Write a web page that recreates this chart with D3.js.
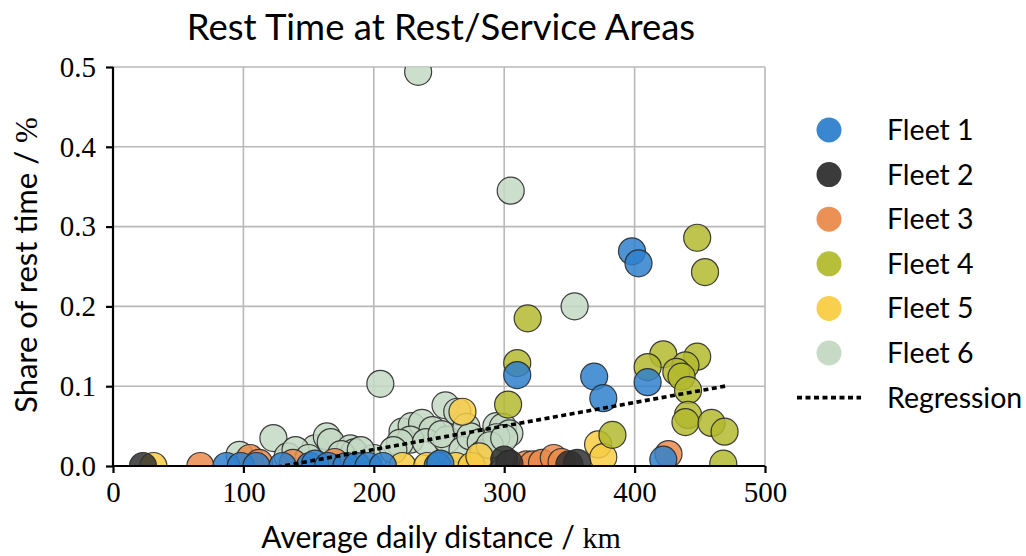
<!DOCTYPE html>
<html>
<head>
<meta charset="utf-8">
<script src="https://cdn.jsdelivr.net/npm/d3@7"></script>
<style>
  html, body { margin: 0; padding: 0; background: #fff; }
  svg { display: block; }
</style>
</head>
<body>
<svg id="chart" width="1026" height="556"></svg>
<script>
// Average daily distance (km) and share of rest time, per fleet
const fleetNames = ["Fleet 1", "Fleet 2", "Fleet 3", "Fleet 4", "Fleet 5", "Fleet 6"];
const fleetColors = ["#2f80cc", "#303030", "#ea8b4c", "#b3ba2e", "#f8cd45", "#c3d8c3"];

const fleet1 = [[398,0.269],[403,0.254],[310,0.114],[369,0.112],[376,0.085],[410,0.105],[422,0.008],
  [87,0],[98,0],[110,0],[130,0],[151,0],[155,0.003],[165,0],[179,0],[187,0],[196,0],[207,0],[249,0],[251,0.003]];
const fleet2 = [[23,0],[300,0.008],[304,0.003],[350,0.002],[356,0.004]];
const fleet3 = [[67,0],[105,0.01],[112,0.004],[138,0.004],[170,0.005],[317,0.002],[322,0.002],
  [329,0.004],[338,0.01],[344,0.005],[426,0.015]];
const fleet4 = [[448,0.286],[454,0.243],[318,0.185],[310,0.129],[303,0.077],[383,0.039],[422,0.140],
  [448,0.137],[410,0.124],[439,0.126],[432,0.118],[436,0.112],[441,0.095],[441,0.064],[439,0.055],
  [459,0.054],[469,0.043],[468,0.003]];
const fleet5 = [[31,0],[268,0.068],[372,0.027],[376,0.011],[222,0],[241,0],[263,0],[275,0],[281,0.012]];
const fleet6 = [[234,0.494],[305,0.345],[354,0.200],[205,0.103],[123,0.035],[97,0.014],[134,0.012],
  [155,0.022],[164,0.037],[167,0.03],[182,0.022],[185,0.017],[255,0.076],[264,0.068],[222,0.043],
  [229,0.05],[237,0.054],[245,0.045],[228,0.033],[220,0.029],[240,0.03],[256,0.033],[252,0.04],
  [271,0.049],[268,0.02],[274,0.037],[282,0.03],[284,0.016],[294,0.05],[299,0.049],[304,0.041],
  [294,0.036],[289,0.026],[300,0.035],[175,0.015],[200,0.01],[140,0.02],[150,0.01],[190,0.02],[215,0.02]];
const fleetData = [fleet1, fleet2, fleet3, fleet4, fleet5, fleet6];

// Linear regression fit: share = intercept + slope * distance
const regSlope = 0.000295;
const regIntercept = -0.0384;
const regRange = [23, 470];

const xTicks = [0, 100, 200, 300, 400, 500];
const yTicks = [0.0, 0.1, 0.2, 0.3, 0.4, 0.5];

const svg = d3.select("#chart");
const plot = { left: 113, right: 765, top: 67, bottom: 466 };

const x = d3.scaleLinear().domain([0, 500]).range([plot.left, plot.right]);
const y = d3.scaleLinear().domain([0, 0.5]).range([plot.bottom, plot.top]);

const sans = "Lato, 'Open Sans', 'DejaVu Sans', sans-serif";
const serif = "'Liberation Serif', 'DejaVu Serif', serif";

// grid
const grid = svg.append("g");
grid.selectAll("line.gx").data(xTicks.slice(1)).join("line")
  .attr("x1", d => x(d)).attr("x2", d => x(d))
  .attr("y1", plot.top).attr("y2", plot.bottom)
  .attr("stroke", "#b8b8b8").attr("stroke-width", 1.6);
grid.selectAll("line.gy").data(yTicks.slice(1)).join("line")
  .attr("x1", plot.left).attr("x2", plot.right)
  .attr("y1", d => y(d)).attr("y2", d => y(d))
  .attr("stroke", "#b8b8b8").attr("stroke-width", 1.6);

svg.append("clipPath").attr("id", "plotClip")
  .append("rect").attr("x", plot.left).attr("y", plot.top)
  .attr("width", plot.right - plot.left).attr("height", plot.bottom - plot.top);

const marks = svg.append("g").attr("clip-path", "url(#plotClip)");

// fleets drawn last-to-first so Fleet 1 ends up on top
for (let i = fleetData.length - 1; i >= 0; i--) {
  marks.append("g").selectAll("circle").data(fleetData[i]).join("circle")
    .attr("cx", d => x(d[0])).attr("cy", d => y(d[1])).attr("r", 13.5)
    .attr("fill", fleetColors[i]).attr("fill-opacity", 0.85)
    .attr("stroke", "#2a2a2a").attr("stroke-opacity", 0.9).attr("stroke-width", 1.2);
}

// regression line
const line = d3.line().x(d => x(d)).y(d => y(regIntercept + regSlope * d));
marks.append("path").datum(regRange).attr("d", line)
  .attr("fill", "none").attr("stroke", "#000").attr("stroke-width", 3.6)
  .attr("stroke-dasharray", "5,3.5");

// axes
const xAxis = svg.append("g").attr("transform", `translate(0,${plot.bottom})`)
  .call(d3.axisBottom(x).tickValues(xTicks).tickFormat(d3.format("d")).tickSize(7).tickPadding(8));
const yAxis = svg.append("g").attr("transform", `translate(${plot.left},0)`)
  .call(d3.axisLeft(y).tickValues(yTicks).tickFormat(d3.format(".1f")).tickSize(7).tickPadding(10));
[xAxis, yAxis].forEach(a => {
  a.select(".domain").attr("stroke", "#000").attr("stroke-width", 2.2);
  a.selectAll(".tick line").attr("stroke", "#000").attr("stroke-width", 2.2);
  a.selectAll(".tick text").attr("fill", "#000").attr("font-family", serif).attr("font-size", 29);
});
xAxis.select(".domain").attr("d", `M${plot.left},0H${plot.right}`);
yAxis.select(".domain").attr("d", `M0,${plot.bottom}V${plot.top}`);

// title and axis labels
svg.append("text").attr("x", 441).attr("y", 40).attr("text-anchor", "middle")
  .attr("font-family", sans).attr("font-size", 36.5).attr("fill", "#000")
  .text("Rest Time at Rest/Service Areas");

const xl = svg.append("text").attr("x", 441).attr("y", 548).attr("text-anchor", "middle")
  .attr("font-family", sans).attr("font-size", 30).attr("fill", "#000");
xl.append("tspan").text("Average daily distance / ");
xl.append("tspan").attr("font-family", serif).text("km");

const yl = svg.append("text").attr("transform", `translate(37,265) rotate(-90)`)
  .attr("text-anchor", "middle").attr("font-family", sans).attr("font-size", 31).attr("fill", "#000");
yl.append("tspan").text("Share of rest time / ");
yl.append("tspan").attr("font-family", serif).text("%");

// legend
const legend = svg.append("g");
const legY0 = 130, legStep = 44.6;
fleetNames.forEach((name, i) => {
  legend.append("circle").attr("cx", 829).attr("cy", legY0 + i * legStep).attr("r", 12.5)
    .attr("fill", fleetColors[i]).attr("fill-opacity", 0.95);
  legend.append("text").attr("x", 887).attr("y", legY0 + i * legStep + 10)
    .attr("font-family", sans).attr("font-size", 28.5).attr("fill", "#000").text(name);
});
const regY = legY0 + 6 * legStep;
legend.append("line").attr("x1", 797).attr("x2", 861).attr("y1", regY).attr("y2", regY)
  .attr("stroke", "#000").attr("stroke-width", 3.6).attr("stroke-dasharray", "5,3.5");
legend.append("text").attr("x", 887).attr("y", regY + 10)
  .attr("font-family", sans).attr("font-size", 28.5).attr("fill", "#000").text("Regression");
</script>
</body>
</html>
